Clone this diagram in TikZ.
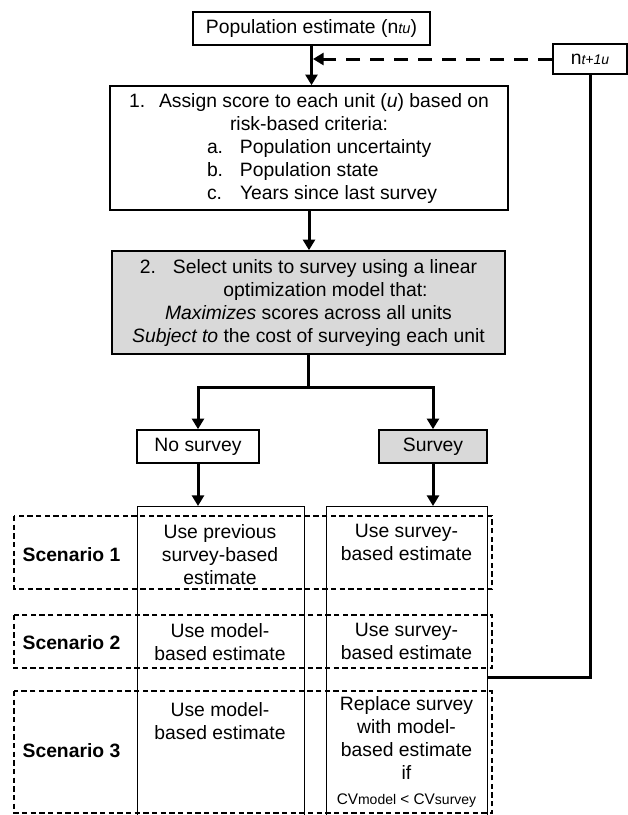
\documentclass[tikz,border=0pt]{standalone}
\usepackage{fontspec}
\setmainfont{Liberation Sans}
\usetikzlibrary{arrows.meta}
\definecolor{boxgray}{gray}{0.85}
\newcommand{\itemline}[2]{\makebox[153pt][l]{\makebox[24.75pt][l]{#1}#2}}
\newcommand{\smalltext}[1]{{\fontsize{10.5pt}{12pt}\selectfont #1}}

\begin{document}
\begin{tikzpicture}[x=0.75pt,y=-0.75pt,
    every node/.style={font=\fontsize{14.5pt}{17.25pt}\selectfont},
    box/.style={draw,line width=1.2pt,inner sep=0pt,align=center},
    column/.style={draw,line width=1.1pt,inner sep=0pt},
    scenario/.style={draw,line width=0.8pt,dash pattern=on 4pt off 2.5pt},
    scenlabel/.style={font=\fontsize{14.5pt}{17.25pt}\selectfont\bfseries},
    cell/.style={align=center},
    link/.style={line width=2.25pt},
    flow/.style={link,-{Triangle[length=8pt,width=9pt]}}]
  \useasboundingbox (0,0) rectangle (628,815);

  \node[box,minimum width=177.75pt,minimum height=24.75pt] (estimate) at (311.5,28.5)
    {Population estimate (n{\fontsize{11pt}{13pt}\selectfont\itshape tu})};
  \node[box,minimum width=55.5pt,minimum height=22.5pt] (next) at (590,59)
    {n\smalltext{\itshape t+1u}};
  \node[box,minimum width=298.5pt,minimum height=93pt] (assign) at (309,148)
    {\makebox[22.5pt][l]{1.}Assign score to each unit (\textit{u}) based on\\
     risk-based criteria:\\
     \itemline{a.}{Population uncertainty}\\
     \itemline{b.}{Population state}\\
     \itemline{c.}{Years since last survey}};
  \node[box,fill=boxgray,minimum width=294.75pt,minimum height=77.25pt] (select) at (308.5,302.5)
    {\makebox[24.75pt][l]{2.}Select units to survey using a linear\\
     \hspace*{25.5pt}optimization model that:\\
     \textit{Maximizes} scores across all units\\
     \textit{Subject to} the cost of surveying each unit};
  \coordinate (split) at (308.5,387);
  \node[box,minimum width=91.5pt,minimum height=24.75pt] (nosurvey) at (198,446.5) {No survey};
  \node[box,fill=boxgray,minimum width=81pt,minimum height=24.75pt] (survey) at (433,446.5) {Survey};

  \node[column,minimum width=125.25pt,minimum height=234pt,anchor=north west] (nocol) at (137,506) {};
  \node[column,minimum width=120.75pt,minimum height=234pt,anchor=north west] (surveycol) at (326,506) {};

  \draw[scenario] (14,516) rectangle (492,589);
  \draw[scenario] (14,615) rectangle (492,668);
  \draw[scenario] (14,691) rectangle (492,813);
  \node[scenlabel] (scen1) at (71.5,555) {Scenario 1};
  \node[scenlabel] (scen2) at (71.5,643) {Scenario 2};
  \node[scenlabel] (scen3) at (71.5,751) {Scenario 3};

  \node[cell] (previous) at (220,555) {Use previous\\ survey-based\\ estimate};
  \node[cell] (surveyest1) at (406.5,542) {Use survey-\\ based estimate};
  \node[cell] (modelest2) at (220,642) {Use model-\\ based estimate};
  \node[cell] (surveyest2) at (406.5,641) {Use survey-\\ based estimate};
  \node[cell] (modelest3) at (220,721) {Use model-\\ based estimate};
  \node[cell] (replace) at (406.5,752)
    {Replace survey\\ with model-\\ based estimate\\ if\\[1pt]
     {\fontsize{11.5pt}{13pt}\selectfont CV\smalltext{model} < CV\smalltext{survey}}};

  \draw[flow] (estimate.south) -- (estimate.south |- assign.north);
  \draw[flow,dash pattern=on 11pt off 7pt,shorten >=1.1pt] (next.west) -- (estimate.south |- next.west);
  \draw[flow] (assign.south) -- (assign.south |- select.north);
  \draw[link] (select.south) -- (split);
  \draw[flow] (split) -| (nosurvey.north);
  \draw[flow] (split) -| (survey.north);
  \draw[flow] (nosurvey.south) -- (nosurvey.south |- nocol.north);
  \draw[flow] (survey.south) -- (survey.south |- surveycol.north);
  \draw[link] (surveycol.north east) ++(0,171) -| (next.south);
\end{tikzpicture}
\end{document}
